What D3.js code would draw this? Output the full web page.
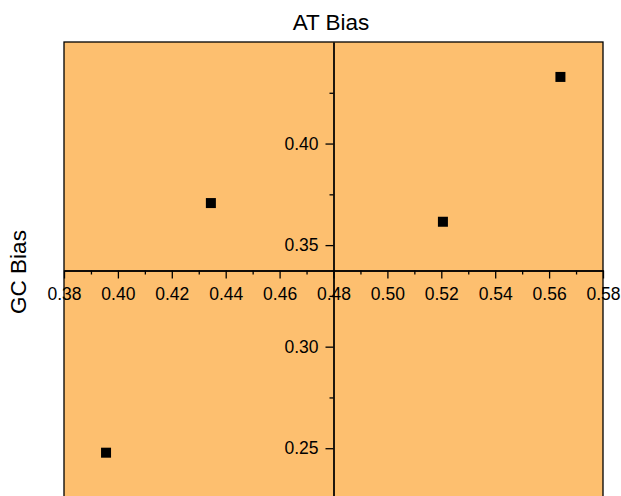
<!DOCTYPE html>
<html>
<head>
<meta charset="utf-8">
<script src="https://cdn.jsdelivr.net/npm/d3@7"></script>
<style>
  body { margin: 0; background: #fff; }
  text { font-family: "Liberation Sans", Arial, sans-serif; fill: #000; }
  .axis text { font-size: 17.5px; }
  .axis line, .axis path { stroke: #000; stroke-width: 1.3px; }
</style>
</head>
<body>
<div id="chart"></div>
<script>
// data
const atBias = [0.4345, 0.5642, 0.5206, 0.3956];
const gcBias = [0.3707, 0.4328, 0.3615, 0.2478];
const xTicks = [0.38, 0.40, 0.42, 0.44, 0.46, 0.48, 0.50, 0.52, 0.54, 0.56, 0.58];
const xMinor = [0.39, 0.41, 0.43, 0.45, 0.47, 0.49, 0.51, 0.53, 0.55, 0.57];
const yTicks = [0.25, 0.30, 0.35, 0.40];
const yMinor = [0.225, 0.275, 0.325, 0.375, 0.425];

const width = 621, height = 496;
const margin = { top: 42, left: 64, right: 18, bottom: -3 };

const svg = d3.select("#chart")
    .append("svg")
    .attr("width", width)
    .attr("height", height);

const xScale = d3.scaleLinear()
    .domain([0.38, 0.58])
    .range([margin.left, width - margin.right]);

const yScale = d3.scaleLinear()
    .domain([0.225, 0.45])
    .range([height - margin.bottom, margin.top]);

// axes cross in the middle
const xCross = 0.48, yCross = 0.3375;

// background panel
svg.append("rect")
    .attr("x", xScale(0.38))
    .attr("y", yScale(0.45))
    .attr("width", xScale(0.58) - xScale(0.38))
    .attr("height", yScale(0.225) - yScale(0.45))
    .attr("fill", "#fdbf6f")
    .attr("stroke", "#000")
    .attr("stroke-width", 1.3);

// minor ticks
svg.append("g")
    .attr("class", "axis")
    .attr("transform", `translate(0,${yScale(yCross)})`)
    .call(d3.axisBottom(xScale).tickValues(xMinor).tickSize(4).tickSizeOuter(0).tickFormat(""));

svg.append("g")
    .attr("class", "axis")
    .attr("transform", `translate(${xScale(xCross)},0)`)
    .call(d3.axisLeft(yScale).tickValues(yMinor).tickSize(4).tickSizeOuter(0).tickFormat(""));

// major ticks with labels
svg.append("g")
    .attr("class", "axis")
    .attr("transform", `translate(0,${yScale(yCross)})`)
    .call(d3.axisBottom(xScale).tickValues(xTicks).tickSize(8).tickPadding(9).tickSizeOuter(0).tickFormat(d3.format(".2f")));

svg.append("g")
    .attr("class", "axis")
    .attr("transform", `translate(${xScale(xCross)},0)`)
    .call(d3.axisLeft(yScale).tickValues(yTicks).tickSize(8).tickPadding(7).tickSizeOuter(0).tickFormat(d3.format(".2f")));

svg.selectAll(".axis text").attr("fill", "#000");

// points
const pts = atBias.map((d, i) => ({ x: d, y: gcBias[i] }));
svg.selectAll(".pt")
    .data(pts)
    .enter()
    .append("rect")
    .attr("class", "pt")
    .attr("x", d => xScale(d.x) - 5)
    .attr("y", d => yScale(d.y) - 5)
    .attr("width", 10)
    .attr("height", 10)
    .attr("fill", "#000");

// titles
svg.append("text")
    .attr("x", 331)
    .attr("y", 30)
    .attr("text-anchor", "middle")
    .style("font-size", "22.5px")
    .text("AT Bias");

svg.append("text")
    .attr("transform", "rotate(-90)")
    .attr("x", -272)
    .attr("y", 26)
    .attr("text-anchor", "middle")
    .style("font-size", "22.5px")
    .text("GC Bias");
</script>
</body>
</html>
